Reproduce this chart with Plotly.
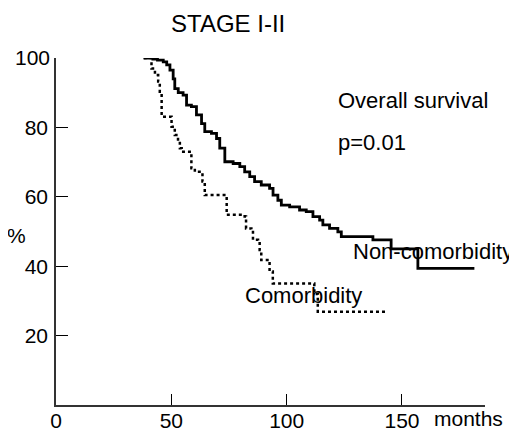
import plotly.graph_objects as go

# Kaplan-Meier step data (months, % surviving after each step)
non_comorb_t = [38, 42, 44, 46.5, 48, 49.4, 50.8, 51.5, 53, 55.1, 56.6, 58.7, 60.9, 63.1, 64.5,
                67.4, 69.6, 71, 73.2, 76.8, 79.7, 81.8, 84, 86.1, 89, 92.6, 94.1, 96.2, 97.7,
                101.3, 105.6, 108.5, 111.4, 114.3, 115.7, 118.6, 122.2, 123.7, 137.4, 145.3,
                156.9, 181.4]
non_comorb_s = [100, 99.7, 99.4, 98.9, 98, 96.5, 94, 91.2, 90, 89.3, 86.4, 86, 83.6, 81.1, 78.8,
                78.3, 76.8, 74, 70.1, 69.6, 68.7, 67.2, 65.8, 64.4, 63.4, 62.4, 60.5, 59, 57.6,
                57.1, 56.2, 55.7, 54.3, 53.3, 51.9, 50.9, 49.9, 48.5, 47.6, 45.0,
                39.4, 39.4]

comorb_t = [38, 41.4, 42.9, 44.3, 45, 45.8, 50.1, 51.5, 52.9, 53.7, 54.5, 58.7, 60.2, 63.5, 64.5,
            74, 81.8, 82.4, 84.7, 85.4, 87.6, 88.3, 89, 92.6, 94, 112, 113.5, 143.1]
comorb_s = [100, 97, 95.1, 93.2, 90.3, 83.1, 80.2, 77.8, 75.9, 74, 73, 68.2, 67.2, 64.4, 60.5,
            54.8, 54.3, 50.9, 50.4, 47.6, 47.1, 44.7, 41.8, 38.5, 35, 32, 26.9, 26.9]

x_ticks = [0, 50, 100, 150]
y_ticks = [20, 40, 60, 80]

FONT = "Liberation Sans, Arial, sans-serif"
PAGE_OFFSET = 8  # default body margin of the HTML page

fig = go.Figure()
fig.add_trace(go.Scatter(x=non_comorb_t, y=non_comorb_s, mode="lines", line_shape="hv",
                         line=dict(color="black", width=2.8), cliponaxis=False,
                         showlegend=False))
fig.add_trace(go.Scatter(x=comorb_t, y=comorb_s, mode="lines", line_shape="hv",
                         line=dict(color="black", width=2.5, dash="dot"), cliponaxis=False,
                         showlegend=False))
# invisible trace for the overlaid axis carrying the "100" label
fig.add_trace(go.Scatter(x=[None], y=[None], yaxis="y2", showlegend=False))

fig.update_layout(
    width=517, height=435,
    margin=dict(l=56 - PAGE_OFFSET, r=32 + PAGE_OFFSET, t=58 - PAGE_OFFSET,
                b=30 + PAGE_OFFSET),
    paper_bgcolor="white", plot_bgcolor="white",
    font=dict(family=FONT, color="black", size=22),
    xaxis=dict(range=[0, 186], tickvals=x_ticks, ticks="inside", ticklen=11, tickwidth=1,
               tickcolor="black", showline=True, linecolor="#333", linewidth=1.5,
               showgrid=False, zeroline=False, tickfont=dict(size=21, family=FONT),
               automargin=False, ticklabelstandoff=-4),
    yaxis=dict(range=[0, 100], tickvals=y_ticks, ticks="inside", ticklen=12, tickwidth=1,
               tickcolor="black", showline=True, linecolor="#333", linewidth=1.5,
               showgrid=False, zeroline=False, tickfont=dict(size=21, family=FONT),
               ticklabelstandoff=2, automargin=False),
    yaxis2=dict(range=[0, 100], overlaying="y", side="left", tickvals=[100], ticks="",
                showline=False, showgrid=False, zeroline=False,
                tickfont=dict(size=21, family=FONT), ticklabelstandoff=5, automargin=False),
    annotations=[
        dict(text="STAGE I-II", xref="paper", yref="paper", x=0.40, y=(405 - 23) / 347,
             showarrow=False, font=dict(size=24), xanchor="center", yanchor="middle"),
        dict(text="Overall survival", x=121.2, y=(405 - 100) / 3.47, showarrow=False,
             xanchor="left", yanchor="middle", font=dict(size=22)),
        dict(text="p=0.01", x=121.2, y=(405 - 142) / 3.47, showarrow=False,
             xanchor="left", yanchor="middle", font=dict(size=22)),
        dict(text="Non-comorbidity", x=128.1, y=(405 - 251) / 3.47, showarrow=False,
             xanchor="left", yanchor="middle", font=dict(size=22)),
        dict(text="Comorbidity", x=81, y=(405 - 295) / 3.47, showarrow=False,
             xanchor="left", yanchor="middle", font=dict(size=22)),
        dict(text="%", xref="paper", yref="paper", x=(16.5 - 56) / 429, y=(405 - 235) / 347,
             showarrow=False, xanchor="center", yanchor="middle", font=dict(size=21)),
        dict(text="months", xref="paper", yref="paper", x=(432 - 56) / 429,
             y=(405 - 418) / 347, showarrow=False, xanchor="left", yanchor="middle",
             font=dict(size=21)),
    ],
)

fig.write_html("out.html")
